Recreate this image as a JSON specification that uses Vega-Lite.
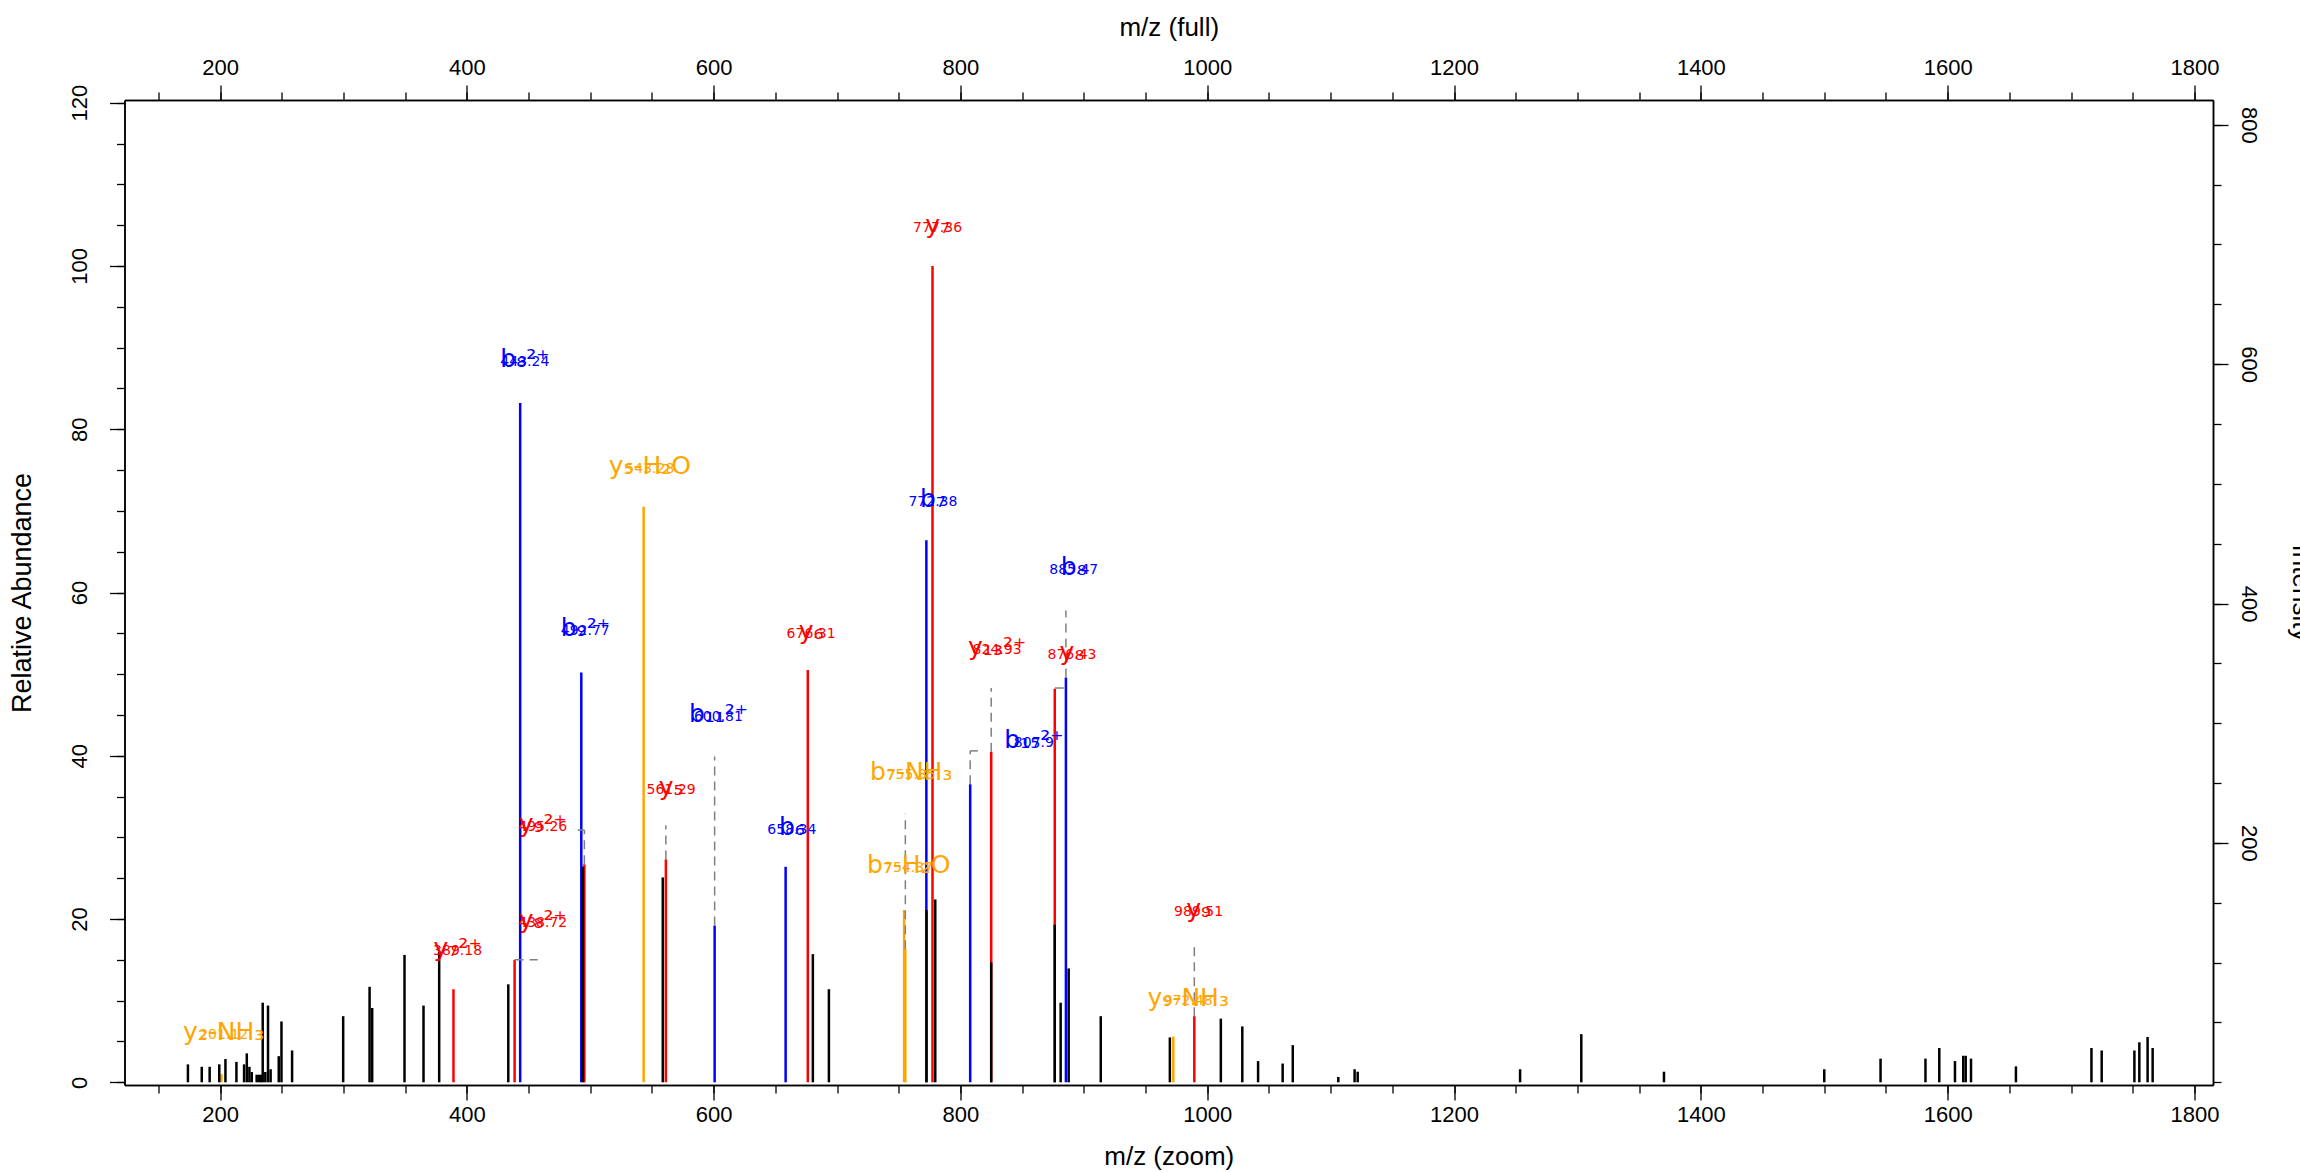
{
  "$schema": "https://vega.github.io/schema/vega-lite/v6.json",
  "autosize": {"type": "none"},
  "width": 2088.5,
  "height": 985,
  "padding": {"left": 124.5, "top": 100, "right": 87, "bottom": 87},
  "background": "white",
  "config": {
    "view": {"stroke": null},
    "axis": {
      "domainColor": "black", "domainWidth": 1.5, "tickColor": "black", "tickWidth": 1.3,
      "labelFont": "Liberation Sans", "labelFontSize": 22, "labelColor": "black",
      "titleFont": "Liberation Sans", "titleFontSize": 26, "titleFontWeight": "normal", "titleColor": "black",
      "grid": false
    }
  },
  "datasets": {
    "peaks": [
      {"mz": 174.0, "rel": 2.2}, {"mz": 185.2, "rel": 1.9}, {"mz": 191.6, "rel": 1.9}, {"mz": 199.4, "rel": 2.2},
      {"mz": 204.4, "rel": 2.85}, {"mz": 213.3, "rel": 2.5}, {"mz": 219.5, "rel": 2.2}, {"mz": 221.7, "rel": 3.55},
      {"mz": 223.8, "rel": 1.9}, {"mz": 225.7, "rel": 1.26}, {"mz": 229.7, "rel": 0.93}, {"mz": 231.6, "rel": 0.93},
      {"mz": 233.4, "rel": 0.93}, {"mz": 234.6, "rel": 9.75}, {"mz": 236.7, "rel": 1.26}, {"mz": 238.9, "rel": 9.4},
      {"mz": 241.0, "rel": 1.6}, {"mz": 247.6, "rel": 3.2}, {"mz": 249.8, "rel": 7.45}, {"mz": 258.4, "rel": 3.9},
      {"mz": 299.8, "rel": 8.1}, {"mz": 321.2, "rel": 11.7}, {"mz": 323.3, "rel": 9.1}, {"mz": 349.5, "rel": 15.6},
      {"mz": 364.9, "rel": 9.4}, {"mz": 377.6, "rel": 16.0}, {"mz": 433.6, "rel": 12.0}, {"mz": 494.1, "rel": 26.4},
      {"mz": 558.8, "rel": 25.1}, {"mz": 680.4, "rel": 15.7}, {"mz": 693.4, "rel": 11.4}, {"mz": 772.5, "rel": 21.1},
      {"mz": 779.6, "rel": 22.4}, {"mz": 824.93, "rel": 14.7}, {"mz": 876.43, "rel": 19.3}, {"mz": 881.2, "rel": 9.75},
      {"mz": 887.7, "rel": 13.95}, {"mz": 913.7, "rel": 8.1}, {"mz": 969.7, "rel": 5.5}, {"mz": 1011.0, "rel": 7.8},
      {"mz": 1028.4, "rel": 6.85}, {"mz": 1041.2, "rel": 2.6}, {"mz": 1061.1, "rel": 2.3}, {"mz": 1069.3, "rel": 4.55},
      {"mz": 1106.2, "rel": 0.65}, {"mz": 1119.4, "rel": 1.6}, {"mz": 1121.9, "rel": 1.3}, {"mz": 1253.5, "rel": 1.6},
      {"mz": 1303.1, "rel": 5.9}, {"mz": 1370.1, "rel": 1.3}, {"mz": 1500.0, "rel": 1.6}, {"mz": 1545.6, "rel": 2.9},
      {"mz": 1582.0, "rel": 2.9}, {"mz": 1593.2, "rel": 4.2}, {"mz": 1605.9, "rel": 2.6}, {"mz": 1612.6, "rel": 3.25},
      {"mz": 1614.6, "rel": 3.25}, {"mz": 1618.9, "rel": 2.9}, {"mz": 1655.3, "rel": 1.95}, {"mz": 1716.5, "rel": 4.2},
      {"mz": 1724.8, "rel": 3.9}, {"mz": 1751.3, "rel": 3.9}, {"mz": 1755.3, "rel": 4.9}, {"mz": 1762.0, "rel": 5.55},
      {"mz": 1766.1, "rel": 4.2}
    ],
    "ions": [
      {"ion": "y₂-NH₃", "num": "201.12", "mz": 201.12, "rel": 1.0, "series": "loss", "label_mz": 203, "label_rel": 6.2},
      {"ion": "y₇²⁺", "num": "389.18", "mz": 389.18, "rel": 11.4, "series": "y", "label_mz": 392.5, "label_rel": 16.4},
      {"ion": "y₈²⁺", "num": "438.72", "mz": 438.72, "rel": 15.0, "series": "y", "label_mz": 461.5, "label_rel": 19.9},
      {"ion": "b₈²⁺", "num": "443.24", "mz": 443.24, "rel": 83.2, "series": "b", "label_mz": 447, "label_rel": 88.6},
      {"ion": "b₉²⁺", "num": "492.77", "mz": 492.77, "rel": 50.2, "series": "b", "label_mz": 496, "label_rel": 55.6},
      {"ion": "y₉²⁺", "num": "495.26", "mz": 495.26, "rel": 26.7, "series": "y", "label_mz": 461.5, "label_rel": 31.7},
      {"ion": "y₅-H₂O", "num": "543.28", "mz": 543.28, "rel": 70.5, "series": "loss", "label_mz": 548.3, "label_rel": 75.5},
      {"ion": "y₅", "num": "561.29", "mz": 561.29, "rel": 27.3, "series": "y", "label_mz": 565.5, "label_rel": 36.2},
      {"ion": "b₁₁²⁺", "num": "600.81", "mz": 600.81, "rel": 19.2, "series": "b", "label_mz": 603.9, "label_rel": 45.1},
      {"ion": "b₆", "num": "658.34", "mz": 658.34, "rel": 26.4, "series": "b", "label_mz": 663.4, "label_rel": 31.3},
      {"ion": "y₆", "num": "676.31", "mz": 676.31, "rel": 50.5, "series": "y", "label_mz": 679, "label_rel": 55.3},
      {"ion": "b₇-H₂O", "num": "754.37", "mz": 754.37, "rel": 21.1, "series": "loss", "label_mz": 758.0, "label_rel": 26.6},
      {"ion": "b₇-NH₃", "num": "755.35", "mz": 755.35, "rel": 16.3, "series": "loss", "label_mz": 760.1, "label_rel": 38.0},
      {"ion": "b₇", "num": "772.38", "mz": 772.38, "rel": 66.4, "series": "b", "label_mz": 777.7, "label_rel": 71.4},
      {"ion": "y₇", "num": "777.36", "mz": 777.36, "rel": 100, "series": "y", "label_mz": 781.5, "label_rel": 105},
      {"ion": "b₁₅²⁺", "num": "807.9", "mz": 807.9, "rel": 36.5, "series": "b", "label_mz": 859.5, "label_rel": 41.9},
      {"ion": "y₁₃²⁺", "num": "824.93", "mz": 824.93, "rel": 40.5, "series": "y", "label_mz": 829.7, "label_rel": 53.3},
      {"ion": "y₈", "num": "876.43", "mz": 876.43, "rel": 48.2, "series": "y", "label_mz": 890.4, "label_rel": 52.7},
      {"ion": "b₈", "num": "885.47", "mz": 885.47, "rel": 49.6, "series": "b", "label_mz": 891.8, "label_rel": 63.1},
      {"ion": "y₉-NH₃", "num": "972.48", "mz": 972.48, "rel": 5.6, "series": "loss", "label_mz": 984.6, "label_rel": 10.3},
      {"ion": "y₉", "num": "989.51", "mz": 989.51, "rel": 8.1, "series": "y", "label_mz": 993, "label_rel": 21.2}
    ],
    "leaders": [
      {"mz_from": 438.72, "mz_to": 457.4, "rel_from": 15.0, "rel_to": 15.0},
      {"mz_from": 495.26, "mz_to": 495.26, "rel_from": 26.7, "rel_to": 30.9},
      {"mz_from": 495.26, "mz_to": 489.8, "rel_from": 30.9, "rel_to": 30.9},
      {"mz_from": 561.29, "mz_to": 561.29, "rel_from": 27.3, "rel_to": 31.5},
      {"mz_from": 600.81, "mz_to": 600.81, "rel_from": 19.2, "rel_to": 39.9},
      {"mz_from": 755.35, "mz_to": 755.35, "rel_from": 16.3, "rel_to": 32.9},
      {"mz_from": 807.9, "mz_to": 807.9, "rel_from": 36.5, "rel_to": 40.6},
      {"mz_from": 807.9, "mz_to": 814.2, "rel_from": 40.6, "rel_to": 40.6},
      {"mz_from": 824.93, "mz_to": 824.93, "rel_from": 40.5, "rel_to": 48.3},
      {"mz_from": 876.43, "mz_to": 885.3, "rel_from": 48.3, "rel_to": 48.3},
      {"mz_from": 885.47, "mz_to": 885.47, "rel_from": 49.6, "rel_to": 57.8},
      {"mz_from": 989.51, "mz_to": 989.51, "rel_from": 8.1, "rel_to": 16.6}
    ]
  },
  "layer": [
    {
      "data": {"name": "ions"},
      "mark": {"type": "rule", "strokeWidth": 2.5},
      "encoding": {
        "x": {"field": "mz", "type": "quantitative", "scale": {"domain": [122.6, 1815], "nice": false, "zero": false},
              "axis": {"orient": "bottom", "values": [150,200,250,300,350,400,450,500,550,600,650,700,750,800,850,900,950,1000,1050,1100,1150,1200,1250,1300,1350,1400,1450,1500,1550,1600,1650,1700,1750,1800], "tickSize": 8, "labels": false, "title": null}},
        "y": {"field": "rel", "type": "quantitative", "scale": {"domain": [-0.33, 120.33], "nice": false, "zero": false},
              "axis": {"orient": "left", "values": [0,5,10,15,20,25,30,35,40,45,50,55,60,65,70,75,80,85,90,95,100,105,110,115,120], "tickSize": 8, "labels": false, "title": null}},
        "y2": {"datum": 0},
        "color": {"field": "series", "type": "nominal", "scale": {"domain": ["b", "y", "loss"], "range": ["#0000FF", "#FF0000", "#FFA500"]}, "legend": null}
      }
    },
    {
      "data": {"name": "peaks"},
      "mark": {"type": "rule", "strokeWidth": 2.5, "color": "black"},
      "encoding": {
        "x": {"field": "mz", "type": "quantitative", "scale": {"domain": [122.6, 1815], "nice": false, "zero": false},
              "axis": {"orient": "bottom", "values": [200,400,600,800,1000,1200,1400,1600,1800], "format": "d", "tickSize": 15, "labelPadding": 4, "title": "m/z (zoom)", "titlePadding": 18}},
        "y": {"field": "rel", "type": "quantitative", "scale": {"domain": [-0.33, 120.33], "nice": false, "zero": false},
              "axis": {"orient": "left", "values": [0,20,40,60,80,100,120], "tickSize": 15, "labelAngle": -90, "labelAlign": "center", "labelBaseline": "bottom", "labelPadding": 18, "title": "Relative Abundance", "titleFontSize": 27, "titlePadding": 32}},
        "y2": {"datum": 0}
      }
    },
    {
      "data": {"values": []},
      "mark": {"type": "rule"},
      "encoding": {
        "x": {"field": "a", "type": "quantitative", "scale": {"domain": [122.6, 1815], "nice": false, "zero": false},
              "axis": {"orient": "top", "values": [200,400,600,800,1000,1200,1400,1600,1800], "format": "d", "tickSize": 15, "labelPadding": 6, "title": "m/z (full)", "titlePadding": 16}},
        "y": {"field": "b", "type": "quantitative", "scale": {"domain": [-2.25, 820.7], "nice": false, "zero": false},
              "axis": {"orient": "right", "values": [200,400,600,800], "format": "d", "tickSize": 15, "labelAngle": 90, "labelAlign": "center", "labelBaseline": "bottom", "labelPadding": 8, "title": "Intensity", "titlePadding": 28}}
      }
    },
    {
      "data": {"values": []},
      "mark": {"type": "rule"},
      "encoding": {
        "x": {"field": "a", "type": "quantitative", "scale": {"domain": [122.6, 1815], "nice": false, "zero": false},
              "axis": {"orient": "top", "values": [150,200,250,300,350,400,450,500,550,600,650,700,750,800,850,900,950,1000,1050,1100,1150,1200,1250,1300,1350,1400,1450,1500,1550,1600,1650,1700,1750,1800], "tickSize": 8, "labels": false, "title": null}},
        "y": {"field": "b", "type": "quantitative", "scale": {"domain": [-2.25, 820.7], "nice": false, "zero": false},
              "axis": {"orient": "right", "values": [0,50,100,150,200,250,300,350,400,450,500,550,600,650,700,750,800], "tickSize": 8, "labels": false, "title": null}}
      }
    },
    {
      "data": {"name": "leaders"},
      "mark": {"type": "rule", "strokeWidth": 1.5, "color": "#808080", "strokeDash": [9, 6]},
      "encoding": {
        "x": {"field": "mz_from", "type": "quantitative", "scale": {"domain": [122.6, 1815], "nice": false, "zero": false}, "axis": null},
        "x2": {"field": "mz_to"},
        "y": {"field": "rel_from", "type": "quantitative", "scale": {"domain": [-0.33, 120.33], "nice": false, "zero": false}, "axis": null},
        "y2": {"field": "rel_to"}
      }
    },
    {
      "data": {"name": "ions"},
      "mark": {"type": "text", "font": "DejaVu Sans", "fontSize": 25, "align": "center", "baseline": "middle"},
      "encoding": {
        "x": {"field": "label_mz", "type": "quantitative", "scale": {"domain": [122.6, 1815], "nice": false, "zero": false}, "axis": null},
        "y": {"field": "label_rel", "type": "quantitative", "scale": {"domain": [-0.33, 120.33], "nice": false, "zero": false}, "axis": null},
        "text": {"field": "ion"},
        "color": {"field": "series", "type": "nominal", "scale": {"domain": ["b", "y", "loss"], "range": ["#0000FF", "#FF0000", "#FFA500"]}, "legend": null}
      }
    },
    {
      "data": {"name": "ions"},
      "mark": {"type": "text", "font": "DejaVu Sans", "fontSize": 14, "align": "center", "baseline": "middle", "dy": 3},
      "encoding": {
        "x": {"field": "label_mz", "type": "quantitative", "scale": {"domain": [122.6, 1815], "nice": false, "zero": false}, "axis": null},
        "y": {"field": "label_rel", "type": "quantitative", "scale": {"domain": [-0.33, 120.33], "nice": false, "zero": false}, "axis": null},
        "text": {"field": "num"},
        "color": {"field": "series", "type": "nominal", "scale": {"domain": ["b", "y", "loss"], "range": ["#0000FF", "#FF0000", "#FFA500"]}, "legend": null}
      }
    }
  ],
  "resolve": {"scale": {"x": "independent", "y": "independent", "color": "independent"}, "axis": {"x": "independent", "y": "independent"}}
}
